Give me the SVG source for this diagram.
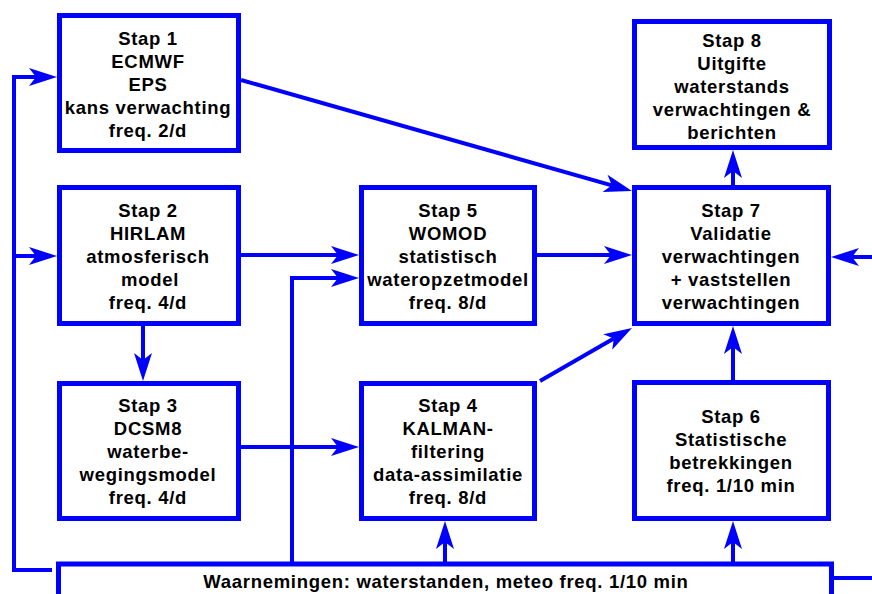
<svg xmlns="http://www.w3.org/2000/svg" width="872" height="594" viewBox="0 0 872 594">
<style>
.box{fill:#fff;stroke:#0000ff;stroke-width:5}
.ln{fill:none;stroke:#0000ff;stroke-width:4;marker-end:url(#ah)}
.pl{fill:none;stroke:#0000ff;stroke-width:4}
text{font-family:"Liberation Sans",Arial,sans-serif;font-weight:bold;font-size:18.5px;letter-spacing:0.7px;fill:#000;text-anchor:middle}
</style>
<defs>
<marker id="ah" markerUnits="userSpaceOnUse" markerWidth="30" markerHeight="20" refX="7" refY="9" orient="auto" overflow="visible">
<path d="M28,9 L0,0 L7,9 L0,18 Z" fill="#0000ff"/>
</marker>
</defs>
<rect width="872" height="594" fill="#fff"/>
<g id="connectors">
<path class="ln" d="M52,570 H14 V77 H36"/>
<path class="ln" d="M14,256 H36"/>
<path class="ln" d="M241,80 L611.8,185.3"/>
<path class="ln" d="M241,255 H338"/>
<path class="ln" d="M292,562 V278 H338"/>
<path class="ln" d="M241,447 H338"/>
<path class="ln" d="M537,255 H611"/>
<path class="ln" d="M540,381 L613.8,338.5"/>
<path class="ln" d="M143,326 V360"/>
<path class="ln" d="M733,185 V171"/>
<path class="ln" d="M733,380 V347"/>
<path class="ln" d="M733,562 V542"/>
<path class="ln" d="M445,562 V542"/>
<path class="ln" d="M872,257 H852"/>
<path class="pl" d="M834,578 H872"/>
</g>
<g id="stap1">
<rect class="box" x="59.5" y="15.5" width="179" height="135"/>
<text x="148" y="45">Stap 1</text>
<text x="148" y="68">ECMWF</text>
<text x="148" y="91">EPS</text>
<text x="148" y="114">kans verwachting</text>
<text x="148" y="137">freq. 2/d</text>
</g>
<g id="stap2">
<rect class="box" x="59.5" y="187.5" width="179" height="136"/>
<text x="148" y="217">Stap 2</text>
<text x="148" y="240">HIRLAM</text>
<text x="148" y="263">atmosferisch</text>
<text x="150" y="286">model</text>
<text x="148" y="309">freq. 4/d</text>
</g>
<g id="stap3">
<rect class="box" x="59.5" y="383.5" width="179" height="135"/>
<text x="148" y="412">Stap 3</text>
<text x="148" y="435">DCSM8</text>
<text x="148" y="458">waterbe-</text>
<text x="148" y="481">wegingsmodel</text>
<text x="148" y="504">freq. 4/d</text>
</g>
<g id="stap5">
<rect class="box" x="361.5" y="187.5" width="173" height="136"/>
<text x="448" y="217">Stap 5</text>
<text x="448" y="240">WOMOD</text>
<text x="448" y="263">statistisch</text>
<text x="448" y="286">wateropzetmodel</text>
<text x="448" y="309">freq. 8/d</text>
</g>
<g id="stap4">
<rect class="box" x="361.5" y="383.5" width="173" height="135"/>
<text x="448" y="412">Stap 4</text>
<text x="448" y="435">KALMAN-</text>
<text x="448" y="458">filtering</text>
<text x="448" y="481">data-assimilatie</text>
<text x="448" y="504">freq. 8/d</text>
</g>
<g id="stap8">
<rect class="box" x="634.5" y="21.5" width="195" height="126"/>
<text x="732" y="46.5">Stap 8</text>
<text x="732" y="69.5">Uitgifte</text>
<text x="732" y="92.5">waterstands</text>
<text x="732" y="115.5">verwachtingen &amp;</text>
<text x="732" y="138.5">berichten</text>
</g>
<g id="stap7">
<rect class="box" x="634.5" y="187.5" width="194" height="136"/>
<text x="731" y="217">Stap 7</text>
<text x="731" y="240">Validatie</text>
<text x="731" y="263">verwachtingen</text>
<text x="731" y="286">+ vaststellen</text>
<text x="731" y="309">verwachtingen</text>
</g>
<g id="stap6">
<rect class="box" x="634.5" y="382.5" width="194" height="136"/>
<text x="731" y="423">Stap 6</text>
<text x="731" y="446">Statistische</text>
<text x="731" y="469">betrekkingen</text>
<text x="731" y="492">freq. 1/10 min</text>
</g>
<g id="waarnemingen">
<rect class="box" x="58.5" y="564" width="773" height="60"/>
<text x="446" y="588">Waarnemingen: waterstanden, meteo freq. 1/10 min</text>
</g>
</svg>
